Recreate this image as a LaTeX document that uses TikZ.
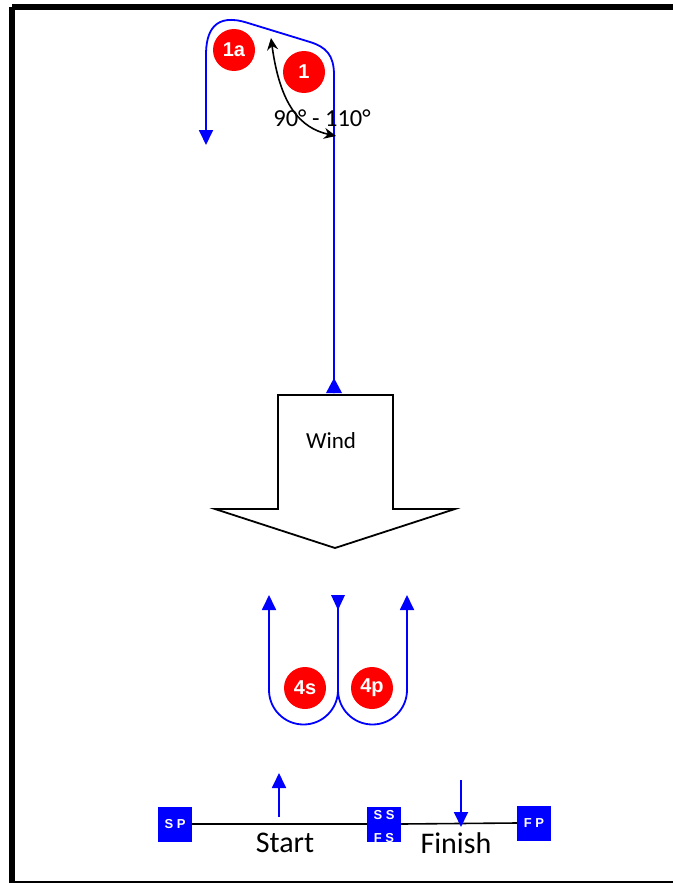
\documentclass[tikz,border=0pt]{standalone}
\usepackage{fontspec}
\setmainfont{Carlito}
\newfontfamily\arialb{Liberation Sans}
\usetikzlibrary{arrows.meta}
\tikzset{
  route/.style={draw=blue, line width=1.8pt},
  btip/.style={-{Triangle[width=14pt,length=15pt]}},
  redmark/.style={circle, fill=red, minimum size=42pt, inner sep=0pt, text=white, font=\arialb\bfseries\fontsize{20}{20}\selectfont},
  flagbox/.style={rectangle, fill=blue, minimum width=34pt, minimum height=35pt, inner sep=0pt, text=white, font=\arialb\bfseries\fontsize{13}{13}\selectfont},
  outline/.style={draw=black, line width=1.8pt},
  lbl/.style={inner sep=0pt, font=\fontsize{23}{23}\selectfont},
  biglbl/.style={inner sep=0pt, font=\fontsize{30}{30}\selectfont},
}
\begin{document}
\begin{tikzpicture}[x=1pt,y=-1pt]
\useasboundingbox (0,0) rectangle (672,883);
% frame
\draw[line width=6pt] (12,7) -- (690,7);
\draw[line width=6pt] (12,7) -- (12,890);
\draw[line width=6pt] (12,884) -- (690,884);

% top route
\coordinate (rs) at (334,393);
\coordinate (r1) at (334,75);
\coordinate (r2) at (310,42);
\coordinate (r3) at (248,23);
\coordinate (r4) at (206,55);
\coordinate (re) at (206,145);
\draw[route, btip] (rs) -- (r1) .. controls (334,55) and (326,47) .. (r2) -- (r3) .. controls (214,12) and (206,32) .. (r4) -- (re);
\fill[blue] (326,393) -- (342,393) -- (334,378) -- cycle;

% angle arrow
\coordinate (a1) at (271,38);
\coordinate (a2) at (336,136);
\draw[line width=1.6pt, {Stealth[length=12pt,width=11pt]}-{Stealth[length=12pt,width=11pt]}] (a1) .. controls (280,105) and (300,128) .. (a2);
\node[inner sep=0pt, font=\fontsize{24.5}{24.5}\selectfont] (ang) at (322,118) {90° - 110°};

\node[redmark] (m1a) at (234,50) {1a};
\node[redmark] (m1) at (304,72) {1};

% wind arrow
\draw[outline, line join=miter] (278,395) -- (393,395) -- (393,509) -- (455,509) -- (335,548) -- (215,509) -- (278,509) -- cycle;
\node[lbl] (wind) at (331,441) {Wind};

% U-turns
\coordinate (um) at (338,595);
\coordinate (ul) at (269,595);
\coordinate (ur) at (407,595);
\draw[route, btip] (um) -- (338,690) arc[start angle=0, end angle=-180, radius=34.5pt] -- (ul);
\draw[route, btip] (um) -- (338,690) arc[start angle=180, end angle=360, radius=34.5pt] -- (ur);
\fill[blue] (331,595) -- (345,595) -- (338,610) -- cycle;
\node[redmark] (m4s) at (305,688) {4s};
\node[redmark] (m4p) at (372,688) {4p};

% start/finish line
\node[flagbox] (sp) at (175,824) {S P};
\node[flagbox] (fp) at (534,823) {F P};
\node[flagbox] (ssfs) at (384,824) {};
\draw[line width=1.6pt] (sp.east) -- (ssfs.west);
\draw[line width=1.6pt] (ssfs.east) -- (fp.west);
\begin{scope}
\clip (ssfs.south west) rectangle (ssfs.north east);
\node[text=white, inner sep=0pt, font=\arialb\bfseries\fontsize{13}{13}\selectfont] (ss) at (384,815) {S S};
\node[text=white, inner sep=0pt, font=\arialb\bfseries\fontsize{13}{13}\selectfont] (fs) at (384,838) {F S};
\end{scope}
\coordinate (up0) at (279,817);
\coordinate (up1) at (279,773);
\draw[route, btip] (up0) -- (up1);
\coordinate (dn0) at (461,780);
\coordinate (dn1) at (461,827);
\draw[route, btip] (dn0) -- (dn1);
\node[biglbl] (start) at (285,843) {Start};
\node[biglbl] (finish) at (456,843) {Finish};
\end{tikzpicture}
\end{document}
